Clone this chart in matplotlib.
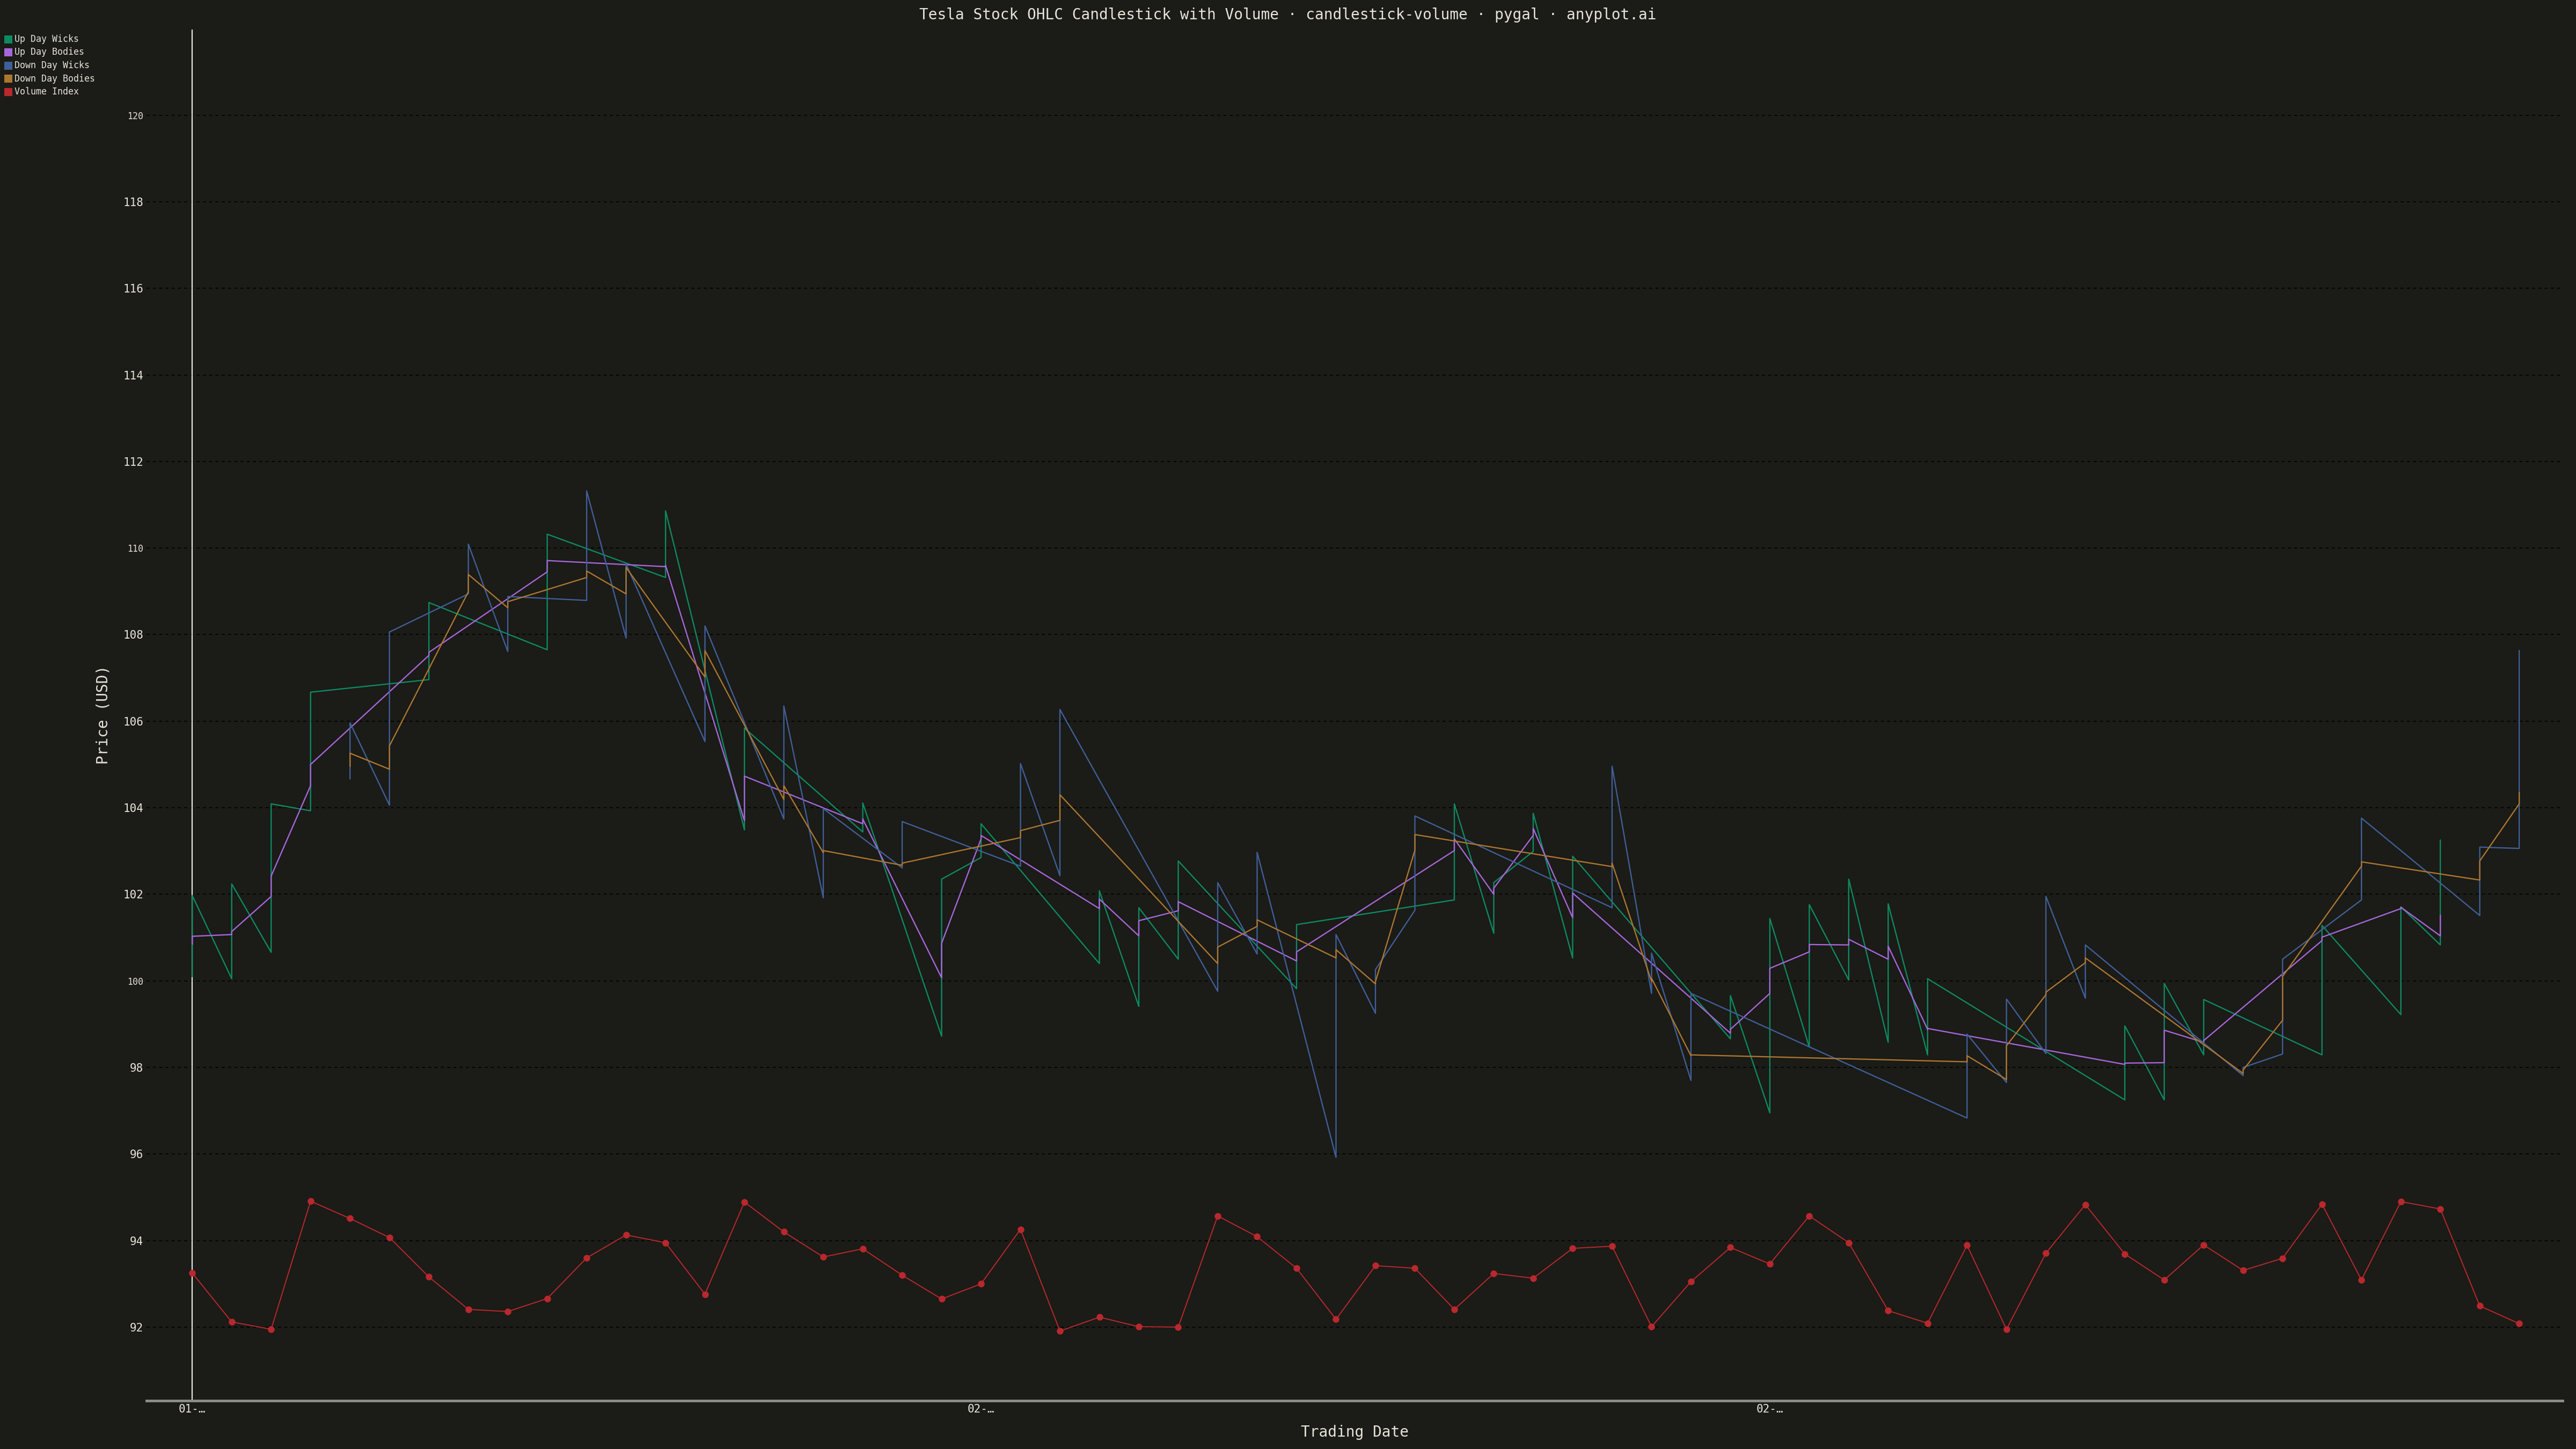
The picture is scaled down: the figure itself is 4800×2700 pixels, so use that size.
import numpy as np
import matplotlib.pyplot as plt
from matplotlib.patches import Rectangle

# Tesla OHLC + volume index, 60 trading days
days = np.arange(60)

opens = [100.85, 101.07, 101.95, 104.51, 105.26, 105.43, 107.52, 109.39, 108.76, 109.45,
         109.47, 109.55, 109.57, 107.63, 103.70, 104.51, 103.01, 103.63, 102.72, 100.07,
         103.28, 103.47, 104.30, 101.67, 101.04, 101.62, 100.78, 101.41, 100.46, 100.72,
         99.98, 103.38, 103.01, 102.00, 103.36, 101.46, 102.72, 100.06, 98.29, 98.79,
         99.71, 100.67, 100.83, 100.50, 98.88, 98.27, 98.50, 99.74, 100.53, 98.07,
         98.11, 98.58, 97.94, 100.10, 100.93, 102.75, 101.67, 101.04, 102.77, 104.35]
closes = [101.03, 101.14, 102.42, 105.00, 104.96, 104.89, 107.59, 108.99, 108.62, 109.71,
          109.32, 108.94, 109.60, 107.02, 104.73, 104.19, 102.96, 103.74, 102.67, 100.87,
          103.36, 103.31, 103.71, 101.89, 101.39, 101.83, 100.40, 101.26, 100.67, 100.53,
          99.93, 103.02, 103.28, 102.14, 103.52, 102.03, 102.64, 99.99, 98.27, 98.88,
          100.29, 100.84, 100.96, 100.80, 98.90, 98.13, 97.72, 99.68, 100.42, 98.10,
          98.86, 98.62, 97.86, 99.09, 101.01, 102.65, 101.70, 101.51, 102.33, 104.09]
highs = [101.97, 102.24, 104.09, 106.67, 105.96, 108.06, 108.74, 110.09, 108.88, 110.32,
         111.32, 109.63, 110.86, 108.20, 105.84, 106.35, 103.98, 104.11, 103.68, 102.35,
         103.63, 105.02, 106.27, 102.08, 101.69, 102.77, 102.27, 102.97, 101.30, 101.07,
         100.26, 103.81, 104.09, 102.27, 103.87, 102.88, 104.96, 100.64, 99.71, 99.66,
         101.44, 101.76, 102.35, 101.78, 100.05, 98.77, 99.58, 101.95, 100.83, 98.96,
         99.94, 99.57, 98.00, 100.50, 101.28, 103.76, 101.71, 103.25, 103.09, 107.63]
lows = [100.10, 100.05, 100.66, 103.93, 104.67, 104.06, 106.96, 108.94, 107.61, 107.65,
        108.79, 107.92, 109.32, 105.53, 103.49, 103.74, 101.92, 103.44, 102.61, 98.72,
        102.85, 102.65, 102.43, 100.40, 99.41, 100.50, 99.76, 100.62, 99.82, 95.92,
        99.25, 101.63, 101.87, 101.10, 102.99, 100.53, 101.69, 99.71, 97.70, 98.66,
        96.95, 98.47, 100.02, 98.58, 98.29, 96.83, 97.65, 98.32, 99.60, 97.25,
        97.25, 98.29, 97.81, 98.31, 98.29, 101.87, 99.22, 100.83, 101.51, 103.06]
volume_index = [93.25, 92.12, 91.95, 94.91, 94.51, 94.07, 93.16, 92.41, 92.36, 92.66,
                93.60, 94.13, 93.95, 92.76, 94.89, 94.20, 93.62, 93.81, 93.20, 92.65,
                93.00, 94.26, 91.91, 92.23, 92.01, 92.00, 94.57, 94.09, 93.36, 92.18,
                93.42, 93.36, 92.41, 93.24, 93.13, 93.82, 93.87, 92.01, 93.05, 93.84,
                93.46, 94.57, 93.95, 92.38, 92.09, 93.89, 91.95, 93.71, 94.83, 93.69,
                93.09, 93.90, 93.31, 93.59, 94.84, 93.09, 94.90, 94.73, 92.49, 92.08]

tick_days = [0, 20, 40]
tick_labels = ['01-…', '02-…', '02-…']
y_ticks = list(range(92, 121, 2))

BG = '#1b1b17'
FG = '#e6e4da'
colors = {'Up Day Wicks': '#0d8a62', 'Up Day Bodies': '#a766dc',
          'Down Day Wicks': '#3f5f98', 'Down Day Bodies': '#ab7630',
          'Volume Index': '#b9282d'}

plt.rcParams['font.family'] = ['DejaVu Sans Mono', 'DejaVu Sans']

o = np.array(opens)
c = np.array(closes)
h = np.array(highs)
l = np.array(lows)
up = c >= o


def zigzag(mask, lo, hi):
    # pygal-style series: two points per day (low then high), joined day to day
    d = days[mask]
    xs = np.repeat(d, 2)
    ys = np.column_stack([lo[mask], hi[mask]]).ravel()
    return xs, ys


body_lo = np.minimum(o, c)
body_hi = np.maximum(o, c)

series = [
    ('Up Day Wicks', zigzag(up, l, h)),
    ('Up Day Bodies', zigzag(up, body_lo, body_hi)),
    ('Down Day Wicks', zigzag(~up, l, h)),
    ('Down Day Bodies', zigzag(~up, body_lo, body_hi)),
]

fig = plt.figure(figsize=(48, 27), dpi=100, facecolor=BG)
ax = fig.add_axes([273 / 4800, 1 - 2610 / 2700, (4775 - 273) / 4800, (2610 - 55) / 2700])
ax.set_facecolor(BG)

for yv in y_ticks:
    ax.axhline(yv, color='#050505', lw=1.4, ls=(0, (3, 3)), zorder=1)

ax.axvline(0, color='#f2f2f2', lw=1.6, zorder=2)

for name, (xs, ys) in series:
    ax.plot(xs, ys, color=colors[name], lw=1.7, zorder=3)

ax.plot(days, volume_index, color=colors['Volume Index'], lw=1.4, marker='o',
        markersize=8, zorder=4)

ax.set_xlim(-1.16, 60.1)
ax.set_ylim(90.30, 121.98)

for s in ['top', 'right', 'left']:
    ax.spines[s].set_visible(False)
ax.spines['bottom'].set_color('#8c8c88')
ax.spines['bottom'].set_linewidth(3.5)

ax.set_yticks(y_ticks)
ax.set_yticklabels([str(v) for v in y_ticks])
for lab, v in zip(ax.get_yticklabels(), y_ticks):
    lab.set_fontsize(12 if v % 10 == 0 else 15)
ax.set_xticks(tick_days)
ax.set_xticklabels(tick_labels, fontsize=15)
ax.tick_params(axis='both', length=0, colors=FG, labelcolor=FG)
ax.tick_params(axis='y', pad=4)
ax.tick_params(axis='x', pad=4)

fig.text(0.5, 1 - 28 / 2700,
         'Tesla Stock OHLC Candlestick with Volume · candlestick-volume · pygal · anyplot.ai',
         ha='center', va='center', fontsize=20, color=FG)
fig.text(193 / 4800, 1 - 1332 / 2700, 'Price (USD)', rotation=90,
         ha='center', va='center', fontsize=20, color=FG)
fig.text(2524 / 4800, 1 - 2669 / 2700, 'Trading Date',
         ha='center', va='center', fontsize=20, color=FG)

# legend, top left
for k, name in enumerate(colors):
    yc = 73 + 24.5 * k
    fig.patches.append(Rectangle((8 / 4800, 1 - (yc + 7.5) / 2700), 15 / 4800, 15 / 2700,
                                 transform=fig.transFigure, facecolor=colors[name],
                                 edgecolor=colors[name], lw=0))
    fig.text(27 / 4800, 1 - yc / 2700, name, ha='left', va='center',
             fontsize=12, color=FG)

fig.savefig('out.png', dpi=100, facecolor=BG)
